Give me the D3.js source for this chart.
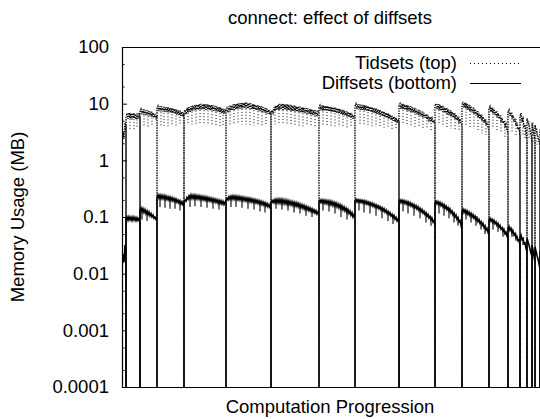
<!DOCTYPE html>
<html>
<head>
<meta charset="utf-8">
<script src="https://cdn.jsdelivr.net/npm/d3@7"></script>
<style>
  body { margin: 0; background: #fff; }
  text { font-family: "Liberation Sans", Arial, sans-serif; fill: #000; }
</style>
</head>
<body>
<div id="chart"></div>
<script>
// Steps at which the memory is freed (series drop to 0)
const dropAt = [0, 4, 18, 35, 62, 104, 149, 197, 233, 277, 313, 340, 367, 386, 398, 405, 410, 413, 418, 422];

// Memory (MB) per step between drops: upper / lower edge of the noisy band, alternating
const tidsets = [
  [1.9, 3.2, 2.4, 4.6, 4.0],
  [5.6, 6.8, 5.4, 6.9, 5.5, 6.7, 5.3, 6.8, 5.5, 6.6, 5.3, 6.7, 5.4, 6.4, 5.6],
  [7.2, 8.0, 6.5, 7.9, 6.4, 7.8, 6.3, 7.6, 6.2, 7.4, 6.0, 7.2, 5.9, 6.9, 5.7, 6.6, 5.3, 6.0],
  [8.3, 9.1, 7.4, 9.0, 7.3, 8.9, 7.3, 8.8, 7.2, 8.7, 7.1, 8.6, 7.0, 8.4, 6.9, 8.3, 6.8, 8.1, 6.6, 7.9, 6.4, 7.7, 6.3, 7.5, 6.1, 7.2, 5.9, 6.8],
  [7.0, 7.8, 6.5, 8.3, 6.9, 8.7, 7.2, 9.0, 7.4, 9.2, 7.6, 9.4, 7.7, 9.6, 7.8, 9.7, 7.9, 9.9, 7.9, 9.8, 7.9, 9.8, 7.8, 9.7, 7.8, 9.6, 7.7, 9.4, 7.6, 9.3, 7.5, 9.1, 7.3, 8.9, 7.2, 8.7, 7.0, 8.4, 6.8, 8.1, 6.6, 7.7, 7.2],
  [7.5, 8.3, 7.0, 8.9, 7.3, 9.3, 7.6, 9.6, 7.8, 9.8, 8.0, 10.0, 8.1, 10.1, 8.2, 10.2, 8.3, 10.3, 8.3, 10.4, 8.3, 10.3, 8.2, 10.2, 8.1, 10.0, 8.0, 9.8, 7.9, 9.6, 7.7, 9.4, 7.6, 9.2, 7.4, 9.0, 7.2, 8.7, 7.0, 8.4, 6.8, 8.1, 6.6, 7.8, 6.4, 7.2],
  [7.0, 7.7, 6.9, 8.6, 7.4, 9.2, 7.7, 9.6, 7.8, 9.9, 7.9, 9.9, 7.8, 9.8, 7.8, 9.7, 7.7, 9.6, 7.6, 9.5, 7.5, 9.3, 7.4, 9.2, 7.3, 9.0, 7.2, 8.9, 7.1, 8.8, 7.0, 8.6, 6.9, 8.5, 6.8, 8.3, 6.7, 8.2, 6.6, 8.0, 6.4, 7.9, 6.3, 7.7, 6.2, 7.5, 6.0, 7.3, 7.2],
  [8.5, 9.3, 7.6, 9.3, 7.5, 9.2, 7.5, 9.1, 7.4, 9.0, 7.3, 8.9, 7.2, 8.7, 7.1, 8.6, 7.0, 8.4, 6.8, 8.2, 6.7, 8.0, 6.5, 7.8, 6.3, 7.6, 6.2, 7.3, 6.0, 7.1, 5.8, 6.9, 5.6, 6.6, 5.4, 6.3, 6.0],
  [9.0, 9.9, 8.0, 9.8, 7.9, 9.6, 7.8, 9.5, 7.7, 9.4, 7.6, 9.2, 7.4, 9.0, 7.3, 8.8, 7.1, 8.6, 6.9, 8.4, 6.8, 8.2, 6.6, 7.9, 6.4, 7.7, 6.2, 7.4, 6.0, 7.2, 5.8, 6.9, 5.6, 6.7, 5.4, 6.4, 5.2, 6.1, 5.0, 5.9, 4.8, 5.6, 4.6, 5.3, 4.8],
  [9.2, 10.0, 8.1, 9.9, 8.0, 9.7, 7.8, 9.5, 7.6, 9.3, 7.4, 9.0, 7.2, 8.7, 7.0, 8.4, 6.8, 8.1, 6.5, 7.8, 6.3, 7.5, 6.0, 7.2, 5.8, 6.9, 5.6, 6.5, 5.3, 6.2, 5.1, 5.8, 4.8, 5.5, 4.6, 5.1, 4.5],
  [9.2, 10.0, 8.0, 9.8, 7.8, 9.5, 7.5, 9.2, 7.2, 8.8, 6.9, 8.4, 6.6, 8.0, 6.3, 7.6, 6.0, 7.2, 5.7, 6.8, 5.4, 6.4, 5.1, 5.9, 4.8, 5.4, 4.4, 4.2],
  [9.5, 10.8, 8.5, 10.4, 8.2, 10.0, 7.8, 9.5, 7.4, 9.0, 7.0, 8.5, 6.6, 8.0, 6.2, 7.4, 5.8, 6.9, 5.4, 6.4, 5.0, 5.9, 4.6, 5.3, 4.2, 4.8, 3.8, 3.4],
  [8.0, 8.9, 7.1, 8.5, 6.7, 8.0, 6.3, 7.4, 5.9, 6.8, 5.4, 6.2, 5.0, 5.6, 4.5, 5.0, 4.0, 4.4, 3.5, 3.0],
  [7.0, 7.7, 6.1, 7.0, 5.5, 6.2, 4.8, 5.4, 4.1, 4.6, 3.5, 3.8, 2.6],
  [6.0, 6.8, 5.0, 5.5, 4.0, 4.2, 3.0, 2.3],
  [5.5, 4.8, 4.2, 3.4, 2.8, 2.0],
  [4.6, 3.6, 2.8, 2.2],
  [4.2, 3.6, 3.0, 2.6, 2.2, 1.8],
  [3.5, 3.0, 2.6, 2.3, 2.1]
];

const diffsets = [
  [0.012, 0.022, 0.016, 0.032, 0.026],
  [0.092, 0.1, 0.088, 0.101, 0.089, 0.099, 0.087, 0.1, 0.088, 0.098, 0.086, 0.097, 0.087, 0.094, 0.085],
  [0.13, 0.145, 0.125, 0.14, 0.12, 0.135, 0.115, 0.128, 0.11, 0.122, 0.105, 0.115, 0.1, 0.108, 0.095, 0.1, 0.09, 0.088],
  [0.22, 0.245, 0.215, 0.243, 0.212, 0.24, 0.21, 0.237, 0.207, 0.233, 0.204, 0.228, 0.2, 0.224, 0.196, 0.219, 0.192, 0.213, 0.187, 0.207, 0.182, 0.2, 0.176, 0.193, 0.17, 0.186, 0.163, 0.168],
  [0.19, 0.2, 0.19, 0.22, 0.205, 0.235, 0.212, 0.245, 0.213, 0.243, 0.212, 0.241, 0.21, 0.238, 0.208, 0.235, 0.205, 0.232, 0.203, 0.229, 0.2, 0.226, 0.197, 0.222, 0.194, 0.218, 0.191, 0.214, 0.188, 0.21, 0.185, 0.206, 0.181, 0.202, 0.177, 0.198, 0.173, 0.194, 0.17, 0.189, 0.166, 0.182, 0.174],
  [0.2, 0.215, 0.2, 0.228, 0.206, 0.233, 0.207, 0.235, 0.206, 0.233, 0.204, 0.231, 0.202, 0.228, 0.2, 0.225, 0.197, 0.222, 0.195, 0.219, 0.192, 0.216, 0.19, 0.213, 0.187, 0.21, 0.184, 0.206, 0.181, 0.202, 0.178, 0.198, 0.174, 0.194, 0.17, 0.189, 0.166, 0.184, 0.162, 0.179, 0.157, 0.173, 0.152, 0.166, 0.146, 0.15],
  [0.18, 0.195, 0.18, 0.2, 0.178, 0.203, 0.178, 0.205, 0.177, 0.205, 0.176, 0.203, 0.174, 0.2, 0.172, 0.197, 0.169, 0.194, 0.167, 0.19, 0.164, 0.186, 0.161, 0.182, 0.157, 0.178, 0.154, 0.174, 0.15, 0.169, 0.146, 0.164, 0.142, 0.159, 0.138, 0.154, 0.134, 0.149, 0.13, 0.144, 0.126, 0.139, 0.122, 0.134, 0.118, 0.129, 0.113, 0.123, 0.117],
  [0.185, 0.2, 0.18, 0.2, 0.178, 0.198, 0.175, 0.196, 0.172, 0.193, 0.168, 0.19, 0.164, 0.186, 0.16, 0.181, 0.156, 0.176, 0.151, 0.17, 0.146, 0.164, 0.14, 0.157, 0.134, 0.15, 0.128, 0.143, 0.122, 0.135, 0.115, 0.127, 0.108, 0.119, 0.1, 0.11, 0.1],
  [0.19, 0.205, 0.185, 0.202, 0.183, 0.2, 0.18, 0.197, 0.177, 0.194, 0.173, 0.19, 0.169, 0.185, 0.165, 0.18, 0.16, 0.175, 0.155, 0.17, 0.15, 0.164, 0.145, 0.158, 0.14, 0.152, 0.134, 0.146, 0.128, 0.14, 0.122, 0.133, 0.116, 0.126, 0.11, 0.119, 0.104, 0.112, 0.098, 0.106, 0.092, 0.099, 0.086, 0.092, 0.078],
  [0.185, 0.2, 0.18, 0.198, 0.177, 0.194, 0.173, 0.19, 0.168, 0.185, 0.163, 0.179, 0.157, 0.172, 0.151, 0.165, 0.145, 0.158, 0.138, 0.151, 0.131, 0.143, 0.124, 0.135, 0.117, 0.127, 0.11, 0.119, 0.103, 0.111, 0.096, 0.103, 0.089, 0.095, 0.082, 0.087, 0.068],
  [0.175, 0.19, 0.17, 0.186, 0.165, 0.18, 0.158, 0.173, 0.151, 0.165, 0.143, 0.156, 0.135, 0.147, 0.127, 0.138, 0.118, 0.128, 0.109, 0.118, 0.1, 0.108, 0.091, 0.098, 0.082, 0.087, 0.072, 0.059],
  [0.125, 0.137, 0.12, 0.133, 0.116, 0.128, 0.111, 0.122, 0.106, 0.116, 0.1, 0.11, 0.095, 0.104, 0.089, 0.097, 0.083, 0.09, 0.077, 0.083, 0.071, 0.077, 0.065, 0.07, 0.059, 0.063, 0.053, 0.048],
  [0.088, 0.095, 0.084, 0.091, 0.08, 0.087, 0.076, 0.082, 0.071, 0.077, 0.066, 0.071, 0.061, 0.065, 0.056, 0.06, 0.051, 0.054, 0.046, 0.042],
  [0.062, 0.068, 0.058, 0.063, 0.053, 0.057, 0.048, 0.051, 0.043, 0.045, 0.038, 0.039, 0.032],
  [0.044, 0.048, 0.04, 0.042, 0.034, 0.035, 0.028, 0.024],
  [0.042, 0.037, 0.032, 0.027, 0.023, 0.02],
  [0.032, 0.026, 0.02, 0.016],
  [0.03, 0.025, 0.021, 0.018, 0.015, 0.012],
  [0.025, 0.021, 0.018, 0.016, 0.014]
];

// Short dips below the band: step and lowest value
const tidDipAt = [8, 12, 15, 22, 26, 30, 39, 42, 46, 50, 54, 58, 66, 70, 74, 78, 82, 86, 90, 94, 98, 101,
  108, 112, 116, 120, 124, 128, 132, 136, 140, 144, 153, 157, 161, 165, 169, 173, 177, 181, 185, 189, 193,
  201, 205, 209, 213, 217, 221, 225, 229, 238, 242, 246, 250, 254, 258, 262, 266, 270, 274,
  281, 285, 289, 293, 297, 301, 305, 309, 317, 321, 325, 329, 333, 337, 344, 348, 352, 356, 360, 364,
  371, 375, 379, 383, 390, 394, 401, 403, 407, 411, 415];
const tidDipLow = [3.6, 3.5, 3.8, 4.0, 3.9, 4.0, 4.0, 4.1, 4.0, 4.2, 4.0, 4.1, 4.2, 4.3, 4.2, 4.4, 4.3, 4.2, 4.1, 4.0, 4.0, 4.1,
  4.3, 4.4, 4.4, 4.3, 4.3, 4.2, 4.1, 4.1, 4.0, 4.0, 4.3, 4.3, 4.3, 4.2, 4.2, 4.1, 4.1, 4.0, 4.0, 4.0, 3.9,
  4.2, 4.1, 4.1, 4.0, 3.9, 3.9, 3.8, 3.8, 4.3, 4.2, 4.2, 4.0, 3.9, 3.9, 3.8, 3.7, 3.6, 3.5,
  4.3, 4.2, 4.0, 3.9, 3.8, 3.7, 3.6, 3.4, 4.2, 4.0, 3.8, 3.6, 3.4, 3.2, 4.2, 3.9, 3.6, 3.3, 3.0, 2.8,
  3.8, 3.4, 3.0, 2.6, 3.2, 2.6, 2.8, 2.4, 2.4, 2.0, 1.9];

const diffDipAt = [20, 25, 38, 43, 48, 53, 58, 68, 73, 79, 85, 91, 97, 109, 114, 120, 126, 132, 138, 143,
  154, 160, 166, 172, 178, 184, 190, 201, 207, 213, 219, 225, 237, 242, 248, 254, 260, 266, 271,
  281, 286, 292, 298, 304, 309, 317, 322, 327, 332, 336, 344, 349, 354, 359, 363, 371, 376, 381, 390, 394, 401];
const diffDipLow = [0.09, 0.085, 0.15, 0.145, 0.14, 0.14, 0.13, 0.15, 0.155, 0.15, 0.145, 0.14, 0.135, 0.15, 0.15, 0.145, 0.14, 0.135, 0.125, 0.12,
  0.14, 0.135, 0.13, 0.12, 0.115, 0.105, 0.1, 0.13, 0.125, 0.115, 0.1, 0.09, 0.13, 0.12, 0.115, 0.105, 0.095, 0.085, 0.075,
  0.125, 0.115, 0.105, 0.095, 0.08, 0.07, 0.115, 0.105, 0.095, 0.08, 0.07, 0.09, 0.08, 0.07, 0.06, 0.05, 0.06, 0.055, 0.045, 0.045, 0.038, 0.032];

const yMajor = [1e-4, 1e-3, 1e-2, 1e-1, 1, 10, 100];
const yLabels = ["0.0001", "0.001", "0.01", "0.1", "1", "10", "100"];
const yMinor = [2e-4, 5e-4, 2e-3, 5e-3, 2e-2, 5e-2, 0.2, 0.5, 2, 5, 20, 50];

const width = 540, height = 419;
const margin = { top: 47, right: -2, bottom: 32, left: 122 };
const fontSize = 18.5;

const svg = d3.select("#chart").append("svg")
  .attr("width", width)
  .attr("height", height);

const x = d3.scaleLinear()
  .domain([0, 420])
  .range([margin.left, width - margin.right]);

const y = d3.scaleLog()
  .domain([1e-4, 100])
  .range([height - margin.bottom, margin.top]);

const y0 = y.range()[0] + 6; // freed memory (0) falls off the bottom of the log axis

// Flatten a series: each run is spread over its steps, with a drop to 0 at both ends
function points(series) {
  const pts = [];
  series.forEach((vals, s) => {
    const a = dropAt[s], b = dropAt[s + 1], n = vals.length;
    pts.push([a, 0]);
    vals.forEach((v, i) => pts.push([a + i * (b - a) / (n - 1), v]));
    pts.push([b, 0]);
  });
  return pts;
}

function valueAt(series, step) {
  const s = Math.max(0, d3.bisectRight(dropAt, step) - 1);
  const vals = series[s], a = dropAt[s], b = dropAt[s + 1];
  const i = Math.round((step - a) / (b - a) * (vals.length - 1));
  return d3.max(vals.slice(Math.max(0, i - 1), i + 2));
}

const line = d3.line()
  .x(d => x(d[0]))
  .y(d => d[1] > 0 ? y(d[1]) : y0);

svg.append("clipPath").attr("id", "plot-clip")
  .append("rect")
  .attr("x", margin.left)
  .attr("y", margin.top)
  .attr("width", x.range()[1] - margin.left)
  .attr("height", y.range()[0] - margin.top);

const plot = svg.append("g").attr("clip-path", "url(#plot-clip)");

// Tidsets (dotted)
plot.append("g").selectAll("line")
  .data(tidDipAt)
  .join("line")
  .attr("x1", d => x(d)).attr("x2", d => x(d))
  .attr("y1", d => y(valueAt(tidsets, d)))
  .attr("y2", (d, i) => y(tidDipLow[i]))
  .attr("stroke", "#000")
  .attr("stroke-width", 1)
  .attr("stroke-dasharray", "1,2");

plot.append("path")
  .attr("d", line(points(tidsets)))
  .attr("fill", "none")
  .attr("stroke", "#000")
  .attr("stroke-width", 1.4)
  .attr("stroke-dasharray", "1.4,1.1");

// Diffsets (solid)
plot.append("g").selectAll("line")
  .data(diffDipAt)
  .join("line")
  .attr("x1", d => x(d)).attr("x2", d => x(d))
  .attr("y1", d => y(valueAt(diffsets, d)))
  .attr("y2", (d, i) => y(diffDipLow[i]))
  .attr("stroke", "#000")
  .attr("stroke-width", 1.1);

plot.append("path")
  .attr("d", line(points(diffsets)))
  .attr("fill", "none")
  .attr("stroke", "#000")
  .attr("stroke-width", 1.6);

// Y axis, major and minor ticks pointing inward
const yAxis = svg.append("g")
  .attr("transform", `translate(${margin.left},0)`)
  .call(d3.axisLeft(y)
    .tickValues(yMajor)
    .tickFormat((d, i) => yLabels[i])
    .tickSizeInner(-5)
    .tickSizeOuter(0)
    .tickPadding(13));

yAxis.select(".domain").remove();
yAxis.selectAll("text")
  .style("font-size", fontSize + "px")
  .style("font-family", "'Liberation Sans', Arial, sans-serif");
yAxis.selectAll("line").attr("stroke", "#000");

svg.append("g")
  .attr("transform", `translate(${margin.left},0)`)
  .call(d3.axisLeft(y).tickValues(yMinor).tickFormat("").tickSizeInner(-2.5).tickSizeOuter(0))
  .call(g => g.select(".domain").remove())
  .selectAll("line").attr("stroke", "#000");

// Border: left, bottom, top
const xr = x.range(), yr = y.range();
svg.append("path")
  .attr("d", `M${xr[1]},${yr[1] + 0.5}H${xr[0] + 0.5}V${yr[0] + 0.5}H${xr[1]}`)
  .attr("fill", "none")
  .attr("stroke", "#000")
  .attr("stroke-width", 1.2);

// Title and axis labels
const cx = 330;
svg.append("text")
  .attr("x", cx).attr("y", 24)
  .attr("text-anchor", "middle")
  .style("font-size", fontSize + "px")
  .text("connect: effect of diffsets");

svg.append("text")
  .attr("x", cx).attr("y", 413)
  .attr("text-anchor", "middle")
  .style("font-size", fontSize + "px")
  .text("Computation Progression");

svg.append("text")
  .attr("transform", `translate(24,${(yr[0] + yr[1]) / 2}) rotate(-90)`)
  .attr("text-anchor", "middle")
  .style("font-size", fontSize + "px")
  .text("Memory Usage (MB)");

// Legend
const legend = [
  { label: "Tidsets (top)", dash: "1,3", y: 63 },
  { label: "Diffsets (bottom)", dash: null, y: 83 }
];

const lg = svg.append("g").selectAll("g")
  .data(legend)
  .join("g")
  .attr("transform", d => `translate(0,${d.y})`);

lg.append("text")
  .attr("x", 457)
  .attr("dy", "0.35em")
  .attr("text-anchor", "end")
  .style("font-size", fontSize + "px")
  .text(d => d.label);

lg.append("line")
  .attr("x1", 470).attr("x2", 521)
  .attr("y1", 0.5).attr("y2", 0.5)
  .attr("stroke", "#000")
  .attr("stroke-width", 1)
  .attr("stroke-dasharray", d => d.dash);
</script>
</body>
</html>
